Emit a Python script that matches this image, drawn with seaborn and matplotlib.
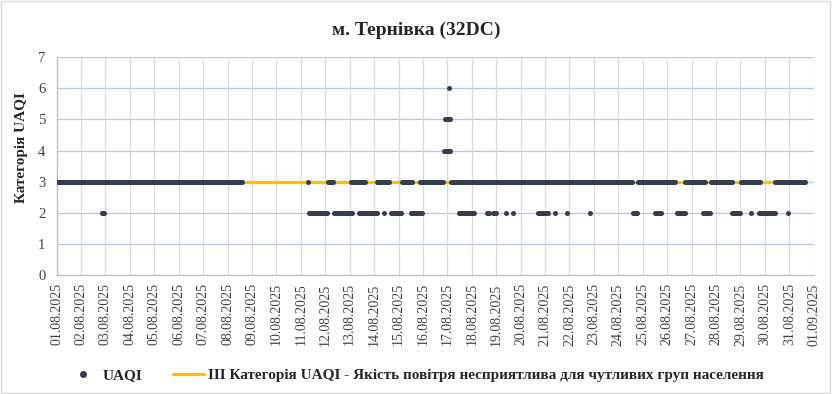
import pandas as pd
import seaborn as sns
import matplotlib.pyplot as plt
from matplotlib.lines import Line2D
from matplotlib.patches import Rectangle

# Початок ряду: 01.08.2025 00:00, години рахуються від нього
start = pd.Timestamp('2025-08-01 00:00')
first_hour = 0
last_hour = 735  # остання точка 31.08.2025 15:00

# Інтервали годин (включно), у яких на графіку стоять точки відповідної категорії
level_2 = [(45, 47), (248, 266), (273, 290), (297, 315), (322, 322), (329, 338),
           (348, 359), (395, 410), (423, 425), (429, 432), (442, 442), (449, 449),
           (473, 483), (490, 490), (502, 502), (524, 524), (566, 570), (588, 594),
           (610, 618), (635, 642), (664, 672), (682, 682), (690, 706), (719, 719)]
level_3 = [(0, 182), (247, 247), (267, 272), (289, 303), (315, 327), (339, 349),
           (357, 380), (388, 565), (571, 608), (618, 637), (643, 664), (673, 691),
           (706, 735)]
level_4 = [(381, 387)]
level_5 = [(382, 387)]
level_6 = [(386, 386)]

threshold = 3
threshold_label = 'ІІІ Категорія UAQI - Якість повітря несприятлива для чутливих груп населення'

sns.set_style('white')
plt.rcParams['font.family'] = ['Liberation Serif', 'DejaVu Serif']

# збираємо точки в одну таблицю
rows = []
for value, spans in [(2, level_2), (3, level_3), (4, level_4), (5, level_5), (6, level_6)]:
    for a, b in spans:
        for h in range(a, b + 1):
            rows.append({'time': start + pd.Timedelta(hours=h), 'uaqi': value})
df = pd.DataFrame(rows)

thr = pd.DataFrame({'time': [start + pd.Timedelta(hours=first_hour),
                             start + pd.Timedelta(hours=last_hour)],
                    'value': [threshold, threshold]})

fig = plt.figure(figsize=(8.32, 3.94), dpi=100)
ax = fig.add_axes([0.068, 0.302, 0.910, 0.553])

sns.lineplot(data=thr, x='time', y='value', color='#FFC000', linewidth=2.3,
             ax=ax, legend=False, zorder=2)
sns.scatterplot(data=df, x='time', y='uaqi', color='#333F50', s=13, linewidth=0,
                ax=ax, legend=False, zorder=3)

days = pd.date_range('2025-08-01', '2025-09-01', freq='D')
ax.set_xlim(days[0], days[-1])
ax.set_ylim(0, 7)
ax.set_xticks(days)
ax.set_xticklabels([d.strftime('%d.%m.%Y') for d in days], rotation=90,
                   fontsize=10, color='#404040')
ax.set_yticks(range(0, 8))
ax.set_yticklabels([str(v) for v in range(0, 8)], fontsize=10.5, color='#404040')
ax.tick_params(axis='both', length=0, pad=6)
ax.tick_params(axis='y', pad=8)
ax.set_xlabel('')
ax.set_ylabel('')

ax.grid(False)
for y in range(1, 8):
    ax.axhline(y, color='#B4C7E7', linewidth=0.9, zorder=0)
for d in days[1:]:
    ax.axvline(d, color='#D9D9D9', linewidth=0.9, zorder=0)

for side in ['top', 'right']:
    ax.spines[side].set_visible(False)
for side in ['left', 'bottom']:
    ax.spines[side].set_color('#BFBFBF')
    ax.spines[side].set_linewidth(1)

fig.text(0.5, 1 - 30 / 394, 'м. Тернівка (32DC)', ha='center', va='center',
         fontsize=14, fontweight='bold')
fig.text(21 / 832, 1 - 148 / 394, 'Категорія UAQI', ha='center', va='center',
         rotation=90, fontsize=11, fontweight='bold')

handles = [Line2D([], [], marker='o', linestyle='none', color='#333F50', markersize=4),
           Line2D([], [], color='#FFC000', linewidth=2.3)]
fig.legend(handles, ['UAQI', threshold_label], loc='center',
           bbox_to_anchor=(0.5, 1 - 375 / 394), ncol=2, frameon=False,
           prop={'weight': 'bold', 'size': 11}, columnspacing=2, handlelength=2,
           handletextpad=0.3)

fig.add_artist(Rectangle((0.001, 0.002), 0.997, 0.995, transform=fig.transFigure,
                         fill=False, edgecolor='#D9D9D9', linewidth=1))

fig.savefig('out.png', dpi=100)
